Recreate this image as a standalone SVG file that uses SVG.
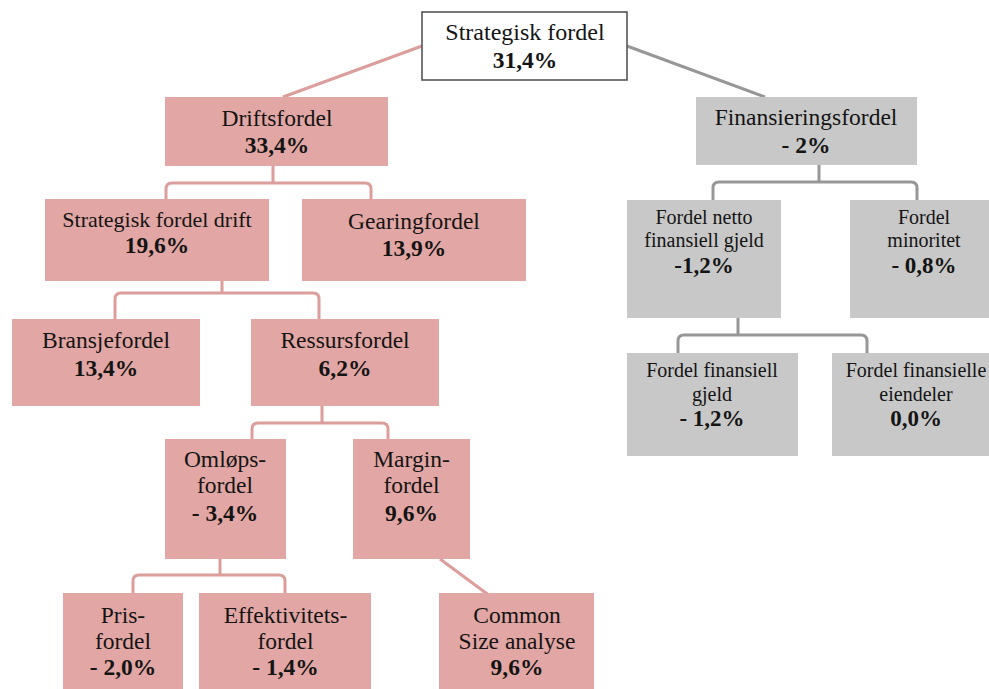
<svg xmlns="http://www.w3.org/2000/svg" width="989" height="689" viewBox="0 0 989 689">
<style>
  text { font-family: "Liberation Serif", "Times New Roman", serif; fill: #141414; text-anchor: middle; }
  .l { font-size: 23.5px; }
  .s { font-size: 22px; }
  .r { font-size: 20px; }
  .p { font-size: 23.5px; font-weight: bold; }
  .pr { font-size: 23px; font-weight: bold; }
  .pink { fill: #e2a7a4; }
  .grey { fill: #c8c8c8; }
  .cp { fill: none; stroke: #dc9e9b; stroke-width: 3; stroke-linejoin: round; }
  .cg { fill: none; stroke: #979797; stroke-width: 3; stroke-linejoin: round; }
</style>
<rect width="989" height="689" fill="#ffffff"/>
<g id="connectors">
  <path class="cp" d="M422,46 L283,97"/>
  <path class="cg" d="M627,46 L765,97"/>
  <path class="cp" d="M273,166 V183 M166,199 V189 Q166,183 172,183 H365 Q371,183 371,189 V199"/>
  <path class="cp" d="M222,281 V293 M115,319 V299 Q115,293 121,293 H313 Q319,293 319,299 V319"/>
  <path class="cp" d="M322,406 V423 M252,439 V429 Q252,423 258,423 H382 Q388,423 388,429 V439"/>
  <path class="cp" d="M220,559 V575 M133,593 V581 Q133,575 139,575 H279 Q285,575 285,581 V593"/>
  <path class="cp" d="M440,559 L490,596"/>
  <path class="cg" d="M819,165 V182 M713,200 V188 Q713,182 719,182 H911 Q917,182 917,188 V200"/>
  <path class="cg" d="M738,318 V335 M678,353 V341 Q678,335 684,335 H861 Q867,335 867,341 V353"/>
</g>
<g id="strategisk-fordel">
  <rect x="422" y="12" width="205" height="68" fill="#ffffff" stroke="#555555" stroke-width="1.6"/>
  <text class="l" x="525" y="40" style="font-size:24px">Strategisk fordel</text>
  <text class="p" x="525" y="68">31,4%</text>
</g>
<g id="driftsfordel">
  <rect class="pink" x="165" y="97" width="223" height="69"/>
  <text class="l" x="277" y="126">Driftsfordel</text>
  <text class="p" x="277" y="153">33,4%</text>
</g>
<g id="finansieringsfordel">
  <rect class="grey" x="696" y="97" width="221" height="68"/>
  <text class="l" x="806" y="125">Finansieringsfordel</text>
  <text class="p" x="806" y="153">- 2%</text>
</g>
<g id="strategisk-fordel-drift">
  <rect class="pink" x="45" y="199" width="224" height="82"/>
  <text class="s" x="157" y="227">Strategisk fordel drift</text>
  <text class="p" x="157" y="253">19,6%</text>
</g>
<g id="gearingfordel">
  <rect class="pink" x="302" y="199" width="224" height="82"/>
  <text class="l" x="414" y="229">Gearingfordel</text>
  <text class="p" x="414" y="256">13,9%</text>
</g>
<g id="bransjefordel">
  <rect class="pink" x="12" y="319" width="188" height="87"/>
  <text class="l" x="106" y="348">Bransjefordel</text>
  <text class="p" x="106" y="376">13,4%</text>
</g>
<g id="ressursfordel">
  <rect class="pink" x="251" y="319" width="188" height="87"/>
  <text class="l" x="345" y="348">Ressursfordel</text>
  <text class="p" x="345" y="376">6,2%</text>
</g>
<g id="omlopsfordel">
  <rect class="pink" x="165" y="439" width="121" height="120"/>
  <text class="l" x="225" y="467">Omløps-</text>
  <text class="l" x="225" y="493">fordel</text>
  <text class="p" x="225" y="521">- 3,4%</text>
</g>
<g id="marginfordel">
  <rect class="pink" x="353" y="439" width="117" height="120"/>
  <text class="l" x="411.5" y="467">Margin-</text>
  <text class="l" x="411.5" y="493">fordel</text>
  <text class="p" x="411.5" y="521">9,6%</text>
</g>
<g id="prisfordel">
  <rect class="pink" x="63" y="593" width="120" height="100"/>
  <text class="l" x="123" y="623">Pris-</text>
  <text class="l" x="123" y="649">fordel</text>
  <text class="p" x="123" y="675">- 2,0%</text>
</g>
<g id="effektivitetsfordel">
  <rect class="pink" x="199" y="593" width="172" height="100"/>
  <text class="l" x="285.5" y="623">Effektivitets-</text>
  <text class="l" x="285.5" y="649">fordel</text>
  <text class="p" x="285.5" y="675">- 1,4%</text>
</g>
<g id="common-size">
  <rect class="pink" x="439" y="593" width="155" height="100"/>
  <text class="l" x="517" y="623">Common</text>
  <text class="l" x="517" y="649">Size analyse</text>
  <text class="p" x="517" y="675">9,6%</text>
</g>
<g id="fordel-netto">
  <rect class="grey" x="627" y="200" width="154" height="118"/>
  <text class="r" x="704" y="224">Fordel netto</text>
  <text class="r" x="704" y="247">finansiell gjeld</text>
  <text class="pr" x="704" y="273">-1,2%</text>
</g>
<g id="fordel-minoritet">
  <rect class="grey" x="850" y="200" width="146" height="118"/>
  <text class="r" x="924" y="224">Fordel</text>
  <text class="r" x="924" y="247">minoritet</text>
  <text class="pr" x="924" y="273">- 0,8%</text>
</g>
<g id="fordel-finansiell-gjeld">
  <rect class="grey" x="627" y="353" width="171" height="103"/>
  <text class="r" x="712" y="377">Fordel finansiell</text>
  <text class="r" x="712" y="401">gjeld</text>
  <text class="pr" x="712" y="426">- 1,2%</text>
</g>
<g id="fordel-finansielle-eiendeler">
  <rect class="grey" x="832" y="353" width="168" height="103"/>
  <text class="r" x="916" y="377">Fordel finansielle</text>
  <text class="r" x="916" y="401">eiendeler</text>
  <text class="pr" x="916" y="426">0,0%</text>
</g>
</svg>
